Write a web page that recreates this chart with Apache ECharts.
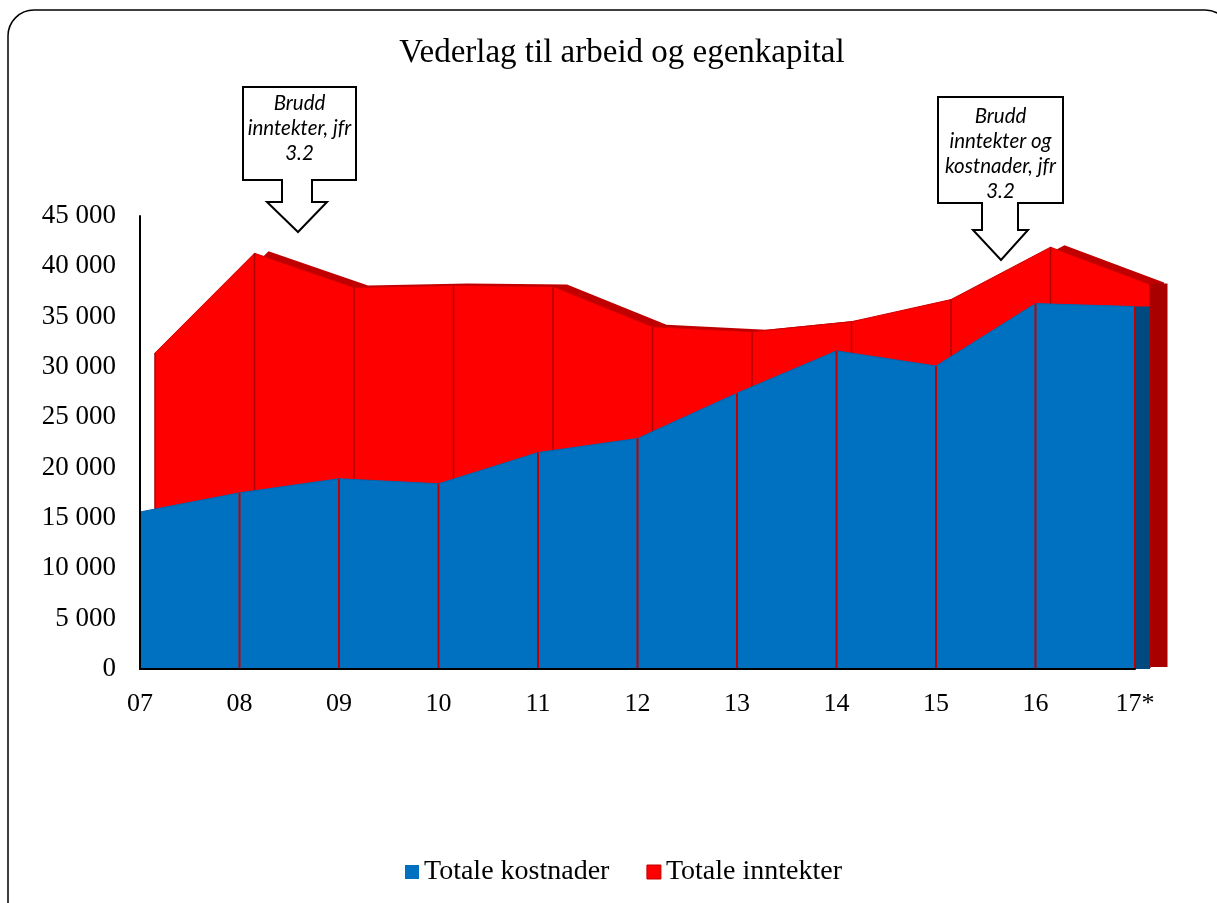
<!DOCTYPE html>
<html>
<head>
<meta charset="utf-8">
<script src="https://cdn.jsdelivr.net/npm/echarts@6/dist/echarts.min.js"></script>
<style>
  html, body { margin: 0; padding: 0; background: #fff; }
  #chart { width: 1217px; height: 903px; }
</style>
</head>
<body>
<div id="chart"></div>
<script>
// Years on the category axis (17* = preliminary)
const categories = ['07', '08', '09', '10', '11', '12', '13', '14', '15', '16', '17*'];
// Totale kostnader (front slab)
const kostnader = [15600, 17500, 18900, 18400, 21500, 22900, 27400, 31600, 30100, 36300, 36000];
// Totale inntekter (back slab)
const inntekter = [31300, 41200, 37800, 38000, 37900, 33900, 33400, 34400, 36600, 41800, 38100];
// Value axis ticks
const yMax = 45000;
const yStep = 5000;

const SERIF = '"Liberation Serif", "Times New Roman", serif';
const NOTE_FONT = 'Lato, "Open Sans", sans-serif';
const BLUE = '#0070c0';
const RED = '#ff0000';

const chart = echarts.init(document.getElementById('chart'), null, { renderer: 'canvas' });

function fmt(v) {
  return String(v).replace(/\B(?=(\d{3})+(?!\d))/g, ' ');
}

// Each slab of the pseudo-3D area chart lives in its own grid, shifted to the right
// so the back slab peeks out behind the front one.
const grids = [
  { left: 140, right: 82, top: 216, bottom: 234 },     // 0: kostnader front face
  { left: 155, right: 67, top: 215, bottom: 235 },     // 1: inntekter front face
  { left: 169, right: 53, top: 213, bottom: 237 },     // 2: inntekter top/back face
  { left: 147.5, right: 74.5, top: 216, bottom: 234 }, // 3: kostnader right side
  { left: 164, right: 58, top: 214, bottom: 236 }      // 4: inntekter right side
];

const xAxes = grids.map((g, i) => ({
  type: 'category',
  gridIndex: i,
  data: categories,
  boundaryGap: false,
  show: i === 0,
  axisLine: { show: i === 0, lineStyle: { color: '#000', width: 2 } },
  axisTick: { show: false },
  axisLabel: {
    show: i === 0,
    margin: 22,
    fontFamily: SERIF,
    fontSize: 26,
    color: '#000'
  },
  splitLine: { show: false },
  z: 10
}));

const yAxes = grids.map((g, i) => ({
  type: 'value',
  gridIndex: i,
  min: 0,
  max: yMax,
  interval: yStep,
  show: i === 0,
  axisLine: { show: i === 0, lineStyle: { color: '#000', width: 2 } },
  axisTick: { show: false },
  splitLine: { show: false },
  axisLabel: {
    show: i === 0,
    margin: 24,
    fontFamily: SERIF,
    fontSize: 27,
    color: '#000',
    formatter: fmt
  },
  z: 10
}));

function onlyLast(arr) {
  return arr.map((v, i) => (i === arr.length - 1 ? v : '-'));
}

const option = {
  backgroundColor: '#fff',
  animation: false,
  title: {
    text: 'Vederlag til arbeid og egenkapital',
    left: 617,
    textAlign: 'center',
    top: 32,
    textStyle: { fontFamily: SERIF, fontSize: 33, fontWeight: 'normal', color: '#000' }
  },
  legend: {
    left: 400,
    top: 853,
    itemWidth: 14,
    itemHeight: 14,
    itemGap: 37,
    icon: 'rect',
    textStyle: { fontFamily: SERIF, fontSize: 28, color: '#000' },
    data: [
      { name: 'Totale kostnader', itemStyle: { color: BLUE, borderWidth: 0 } },
      { name: 'Totale inntekter', itemStyle: { color: RED, borderColor: '#c00000', borderWidth: 1 } }
    ]
  },
  grid: grids,
  xAxis: xAxes,
  yAxis: yAxes,
  series: [
    // top/back face of the inntekter slab
    {
      name: 'inntekter-dybde',
      type: 'line',
      xAxisIndex: 2, yAxisIndex: 2,
      data: inntekter,
      showSymbol: false,
      lineStyle: { width: 0 },
      areaStyle: { color: '#c00000', opacity: 1 },
      itemStyle: { color: '#c00000' },
      z: 1,
      silent: true
    },
    // right side of the inntekter slab
    {
      name: 'inntekter-side',
      type: 'bar',
      xAxisIndex: 4, yAxisIndex: 4,
      data: onlyLast(inntekter),
      barWidth: 17,
      clip: false,
      itemStyle: { color: '#a80000' },
      z: 1,
      silent: true
    },
    // inntekter front face
    {
      name: 'Totale inntekter',
      type: 'line',
      xAxisIndex: 1, yAxisIndex: 1,
      data: inntekter,
      showSymbol: false,
      lineStyle: { width: 1, color: '#d00000' },
      areaStyle: { color: RED, opacity: 1 },
      itemStyle: { color: RED },
      z: 2
    },
    // segment edges on the inntekter face
    {
      name: 'inntekter-kanter',
      type: 'bar',
      xAxisIndex: 1, yAxisIndex: 1,
      data: inntekter,
      barWidth: 1.5,
      clip: false,
      itemStyle: { color: '#b00000' },
      z: 3,
      silent: true
    },
    // right side of the kostnader slab
    {
      name: 'kostnader-side',
      type: 'bar',
      xAxisIndex: 3, yAxisIndex: 3,
      data: onlyLast(kostnader),
      barWidth: 15,
      clip: false,
      itemStyle: { color: '#004a80' },
      z: 4,
      silent: true
    },
    // kostnader front face
    {
      name: 'Totale kostnader',
      type: 'line',
      xAxisIndex: 0, yAxisIndex: 0,
      data: kostnader,
      showSymbol: false,
      lineStyle: { width: 1, color: '#0066b0' },
      areaStyle: { color: BLUE, opacity: 1 },
      itemStyle: { color: BLUE },
      z: 5
    },
    // segment edges on the kostnader face
    {
      name: 'kostnader-kanter',
      type: 'bar',
      xAxisIndex: 0, yAxisIndex: 0,
      data: kostnader.map((v, i) => (i === 0 ? '-' : v)),
      barWidth: 2,
      clip: false,
      itemStyle: { color: '#c00000' },
      z: 6,
      silent: true
    }
  ],
  graphic: [
    // rounded frame around the slide
    {
      type: 'rect',
      shape: { x: 8, y: 10, width: 1223, height: 930, r: 26 },
      style: { fill: 'none', stroke: '#000', lineWidth: 1.5 },
      z: 0,
      silent: true
    },
    // callout: break in income series
    {
      type: 'polygon',
      shape: {
        points: [[243, 87], [356, 87], [356, 180], [312, 180], [312, 202], [327, 202],
                 [298, 232], [267, 202], [282, 202], [282, 180], [243, 180]]
      },
      style: { fill: '#fff', stroke: '#000', lineWidth: 2 },
      z: 100
    },
    {
      type: 'text',
      x: 299.5, y: 91,
      style: {
        text: 'Brudd\ninntekter, jfr\n3.2',
        fontFamily: NOTE_FONT,
        fontStyle: 'italic',
        fontSize: 20.5,
        lineHeight: 25,
        align: 'center',
        verticalAlign: 'top',
        fill: '#000'
      },
      z: 101
    },
    // callout: break in income and cost series
    {
      type: 'polygon',
      shape: {
        points: [[938, 97], [1063, 97], [1063, 203], [1018, 203], [1018, 230], [1028, 230],
                 [1001, 260], [973, 230], [982, 230], [982, 203], [938, 203]]
      },
      style: { fill: '#fff', stroke: '#000', lineWidth: 2 },
      z: 100
    },
    {
      type: 'text',
      x: 1000.5, y: 104,
      style: {
        text: 'Brudd\ninntekter og\nkostnader, jfr\n3.2',
        fontFamily: NOTE_FONT,
        fontStyle: 'italic',
        fontSize: 20.5,
        lineHeight: 25,
        align: 'center',
        verticalAlign: 'top',
        fill: '#000'
      },
      z: 101
    }
  ]
};

chart.setOption(option);
</script>
</body>
</html>
